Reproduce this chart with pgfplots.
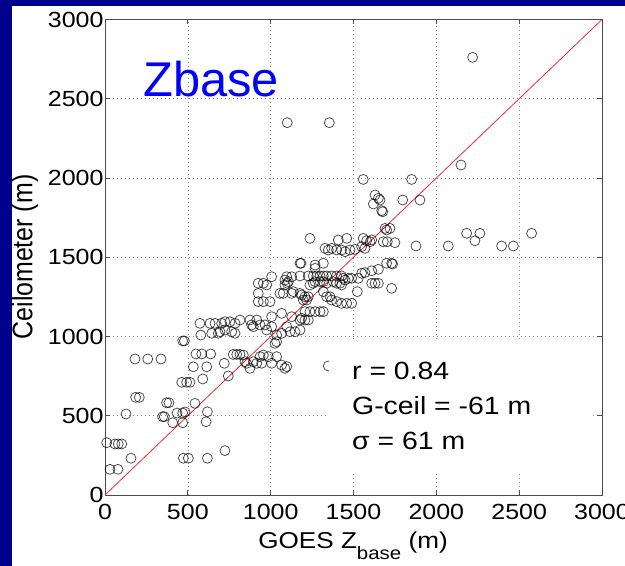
\documentclass[border=0pt]{standalone}
\usepackage{fontspec}
\setmainfont{Liberation Sans}[FakeStretch=1.14]
\newfontfamily\plainsf{Liberation Sans}
\usepackage{graphicx}
\usepackage{pgfplots}
\pgfplotsset{compat=1.18}
\usepackage{pgfplotstable}
\definecolor{slideblue}{RGB}{0,0,140}
\definecolor{fitred}{RGB}{235,45,45}

% GOES cloud-base height vs ceilometer cloud base (m)
\pgfplotstableread{
x y
10 330
60 322
80 322
101 322
157 232
30 162
78 162
127 511
185 616
207 616
181 858
258 858
338 858
348 494
358 494
372 582
386 582
409 456
435 517
469 517
483 524
469 456
469 972
479 972
463 711
493 711
513 711
543 578
549 890
584 890
638 890
533 809
614 809
590 732
573 1083
578 1009
618 525
610 462
473 232
503 232
618 232
724 280
720 831
744 751
634 1083
664 1083
704 1083
724 1093
754 1093
785 1083
644 1020
684 1020
694 1030
724 1041
765 1030
785 1020
774 887
795 887
815 887
835 883
845 841
855 831
875 799
895 841
815 1104
875 1104
885 1073
916 1104
936 1073
966 1073
976 1041
1006 1062
895 1062
925 1220
956 1220
996 1220
925 1272
925 1336
956 1336
976 1325
1006 1377
1006 1125
1066 1146
1127 1125
1026 957
1036 967
1036 1009
1066 1020
1097 1062
1117 1030
1147 1030
1177 1041
1187 1115
916 831
946 831
936 873
956 883
986 873
1006 831
1036 873
1066 820
1086 799
1097 810
1207 1157
1237 1157
1268 1157
1298 1157
1318 1157
1177 1104
1207 1104
1227 1104
1137 1283
1177 1272
1207 1251
1227 1251
1197 1230
1217 1230
1056 1272
1076 1272
1127 1272
1187 1262
1318 1283
1338 1251
1368 1230
1398 1220
1428 1209
1459 1209
1489 1209
1358 1251
1097 1377
1127 1377
1177 1382
1086 1356
1107 1346
1227 1382
1257 1382
1278 1382
1298 1382
1318 1382
1338 1382
1368 1382
1398 1382
1428 1382
1268 1346
1298 1346
1318 1346
1338 1336
1378 1346
1418 1336
1449 1356
1489 1367
1529 1367
1549 1399
1569 1403
1610 1415
1650 1424
1438 1367
1469 1367
1398 1336
1428 1325
1237 1325
1257 1336
1086 1325
1100 1336
1523 1283
1610 1336
1630 1336
1650 1336
1730 1304
1177 1462
1183 1462
1268 1451
1268 1430
1318 1462
1237 1619
1328 1556
1348 1546
1368 1556
1398 1546
1428 1546
1449 1535
1479 1546
1509 1550
1408 1609
1459 1619
1549 1567
1569 1556
1559 1619
1579 1604
1600 1598
1610 1609
1700 1462
1730 1462
1736 1457
1680 1598
1704 1598
1750 1592
1690 1682
1700 1672
1720 1682
1877 1571
1670 1794
1676 1787
1630 1893
1650 1872
1620 1836
1660 1861
1797 1861
1901 1861
1559 1991
1851 1991
2149 2082
2219 2761
1354 2349
1100 2349
2072 1571
2183 1651
2263 1651
2233 1604
2394 1571
2465 1571
2575 1651
1348 814
}\zbasedata

\begin{document}
\begin{tikzpicture}
\useasboundingbox (0bp,0bp) rectangle (625bp,566bp);
\fill[slideblue] (0bp,0bp) rectangle (625bp,566bp);
\fill[white] (12bp,0bp) rectangle (625bp,560bp);
\begin{axis}[
  at={(105bp,71bp)}, anchor=south west,
  scale only axis, width=497bp, height=475.5bp,
  xmin=0, xmax=3000, ymin=0, ymax=3000,
  xtick={0,500,...,3000}, ytick={0,500,...,3000},
  scaled ticks=false,
  /pgf/number format/1000 sep={},
  /pgf/number format/assume math mode=true,
  tick align=inside, major tick length=5bp,
  xtick pos=both, ytick pos=both,
  grid=major,
  grid style={black!45, line width=0.6bp, dash pattern=on 0.8bp off 3.2bp},
  axis line style={black!70, line width=0.8bp},
  tick style={black!70, line width=0.8bp},
  ticklabel style={font=\fontsize{22}{26}\selectfont},
  xticklabel style={yshift=-6bp},
  yticklabel style={xshift=2bp},
]
\addplot[only marks, mark=o, mark size=5bp,
  mark options={draw=black, line width=0.75bp, draw opacity=0.72}]
  table[x=x, y=y] {\zbasedata};
\addplot[fitred, line width=0.8bp] coordinates {(0,0) (3000,3000)};
\end{axis}
% statistics box
\fill[white] (329bp,94bp) rectangle (593bp,226bp);
\begin{scope}[every node/.style={anchor=base west, inner sep=0pt, font=\fontsize{25}{30}\selectfont}]
\node at (352bp,186bp) {r = 0.84};
\node at (352bp,151bp) {G-ceil = -61 m};
\node at (352bp,116bp) {σ = 61 m};
\end{scope}
\node[anchor=base west, inner sep=0pt, text=blue, font=\plainsf\fontsize{49}{58}\selectfont] at (143bp,469bp) {Zbase};
\node[rotate=90, inner sep=0pt, font=\plainsf\fontsize{25}{30}\selectfont] at (25bp,309bp) {\scalebox{1}[1.14]{Ceilometer (m)}};
\node[anchor=base, inner sep=0pt, font=\fontsize{23}{28}\selectfont] at (353bp,18bp)
  {GOES Z\raisebox{-0.5em}{\fontsize{18}{20}\selectfont base} (m)};
\end{tikzpicture}
\end{document}
